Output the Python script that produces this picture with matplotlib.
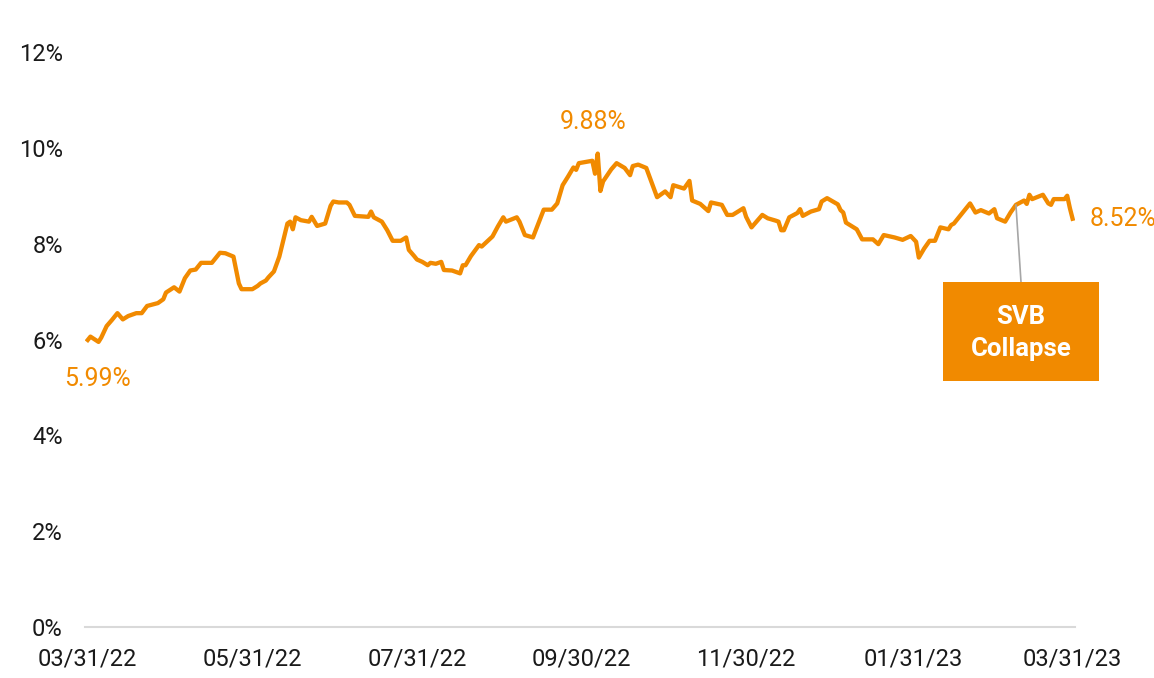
import numpy as np
import matplotlib
matplotlib.use('Agg')
import matplotlib.pyplot as plt
import matplotlib.dates as mdates
from matplotlib.patches import Rectangle

plt.rcParams['font.family'] = ['Roboto', 'DejaVu Sans']

# days after 03/31/22 and the yield (%)
start = np.datetime64('2022-03-31')
days = [0, 1, 4, 5, 7, 9, 11, 13, 15, 18, 20, 22, 26, 28, 29, 32, 34, 36, 38, 40,
        42, 46, 49, 51, 54, 56, 57, 61, 63, 64, 66, 67, 69, 71, 74, 75, 76, 77,
        79, 82, 83, 85, 88, 90, 91, 93, 96, 97, 99, 104, 105, 106, 109, 111, 113,
        116, 118, 119, 121, 122, 124, 126, 127, 129, 131, 132, 135, 138, 139, 140,
        142, 145, 146, 150, 152, 154, 155, 159, 160, 162, 165, 167, 169, 172, 174,
        176, 178, 180, 181, 182, 185, 187, 188, 189, 190, 191, 194, 196, 199, 201,
        202, 204, 207, 211, 214, 216, 217, 221, 223, 224, 227, 230, 231, 235, 237,
        239, 243, 244, 246, 250, 252, 255, 256, 257, 258, 260, 263, 264, 265, 268,
        271, 272, 274, 278, 279, 280, 281, 285, 287, 291, 293, 295, 299, 302, 305,
        307, 308, 310, 312, 314, 316, 319, 320, 321, 324, 327, 329, 331, 334, 336,
        337, 340, 342, 344, 347, 348, 349, 350, 354, 356, 357, 358, 362, 363, 364,
        365]
yields = [5.99, 6.06, 5.95, 6.04, 6.28, 6.41, 6.55, 6.42, 6.49, 6.55, 6.55, 6.70,
          6.76, 6.84, 6.98, 7.09, 7.00, 7.28, 7.44, 7.46, 7.60, 7.60, 7.81, 7.80,
          7.73, 7.17, 7.05, 7.05, 7.12, 7.17, 7.23, 7.30, 7.42, 7.73, 8.42, 8.46,
          8.30, 8.55, 8.49, 8.46, 8.56, 8.37, 8.42, 8.79, 8.88, 8.86, 8.86, 8.81,
          8.58, 8.56, 8.67, 8.55, 8.46, 8.28, 8.06, 8.06, 8.13, 7.87, 7.74, 7.67,
          7.62, 7.55, 7.60, 7.58, 7.62, 7.45, 7.44, 7.38, 7.55, 7.55, 7.74, 7.97,
          7.94, 8.15, 8.36, 8.55, 8.46, 8.55, 8.46, 8.18, 8.13, 8.42, 8.71, 8.71,
          8.84, 9.22, 9.40, 9.59, 9.54, 9.68, 9.71, 9.73, 9.46, 9.88, 9.10, 9.30,
          9.55, 9.68, 9.58, 9.43, 9.62, 9.65, 9.58, 8.97, 9.09, 8.97, 9.22, 9.15,
          9.31, 8.90, 8.83, 8.68, 8.86, 8.81, 8.60, 8.60, 8.74, 8.56, 8.34, 8.60,
          8.53, 8.48, 8.46, 8.28, 8.28, 8.55, 8.64, 8.72, 8.58, 8.67, 8.72, 8.88,
          8.95, 8.82, 8.70, 8.65, 8.44, 8.30, 8.09, 8.09, 7.99, 8.18, 8.13, 8.08,
          8.16, 8.04, 7.71, 7.90, 8.06, 8.06, 8.34, 8.30, 8.39, 8.42, 8.63, 8.84,
          8.65, 8.70, 8.63, 8.72, 8.53, 8.46, 8.65, 8.81, 8.90, 8.83, 9.02, 8.93,
          9.02, 8.84, 8.81, 8.93, 8.93, 9.00, 8.74, 8.52]

tick_dates = ['2022-03-31', '2022-05-31', '2022-07-31', '2022-09-30',
              '2022-11-30', '2023-01-31', '2023-03-31']
y_ticks = [0, 2, 4, 6, 8, 10, 12]
svb_date = '2023-03-10'

orange = '#F18A00'
dates = start + np.array(days).astype('timedelta64[D]')

fig = plt.figure(figsize=(11.54, 6.78), dpi=100)
ax = fig.add_axes([0.0737, 0.0752, 0.8581, 0.8481])

ax.plot(dates, yields, color=orange, lw=3.1, solid_joinstyle='round')

ax.set_ylim(0, 12)
ax.set_xlim(start - np.timedelta64(1, 'D'), start + np.timedelta64(366, 'D'))
ax.set_yticks(y_ticks)
ax.set_yticklabels([f'{v}%' for v in y_ticks])
ax.set_xticks([np.datetime64(d) for d in tick_dates])
ax.xaxis.set_major_formatter(mdates.DateFormatter('%m/%d/%y'))
ax.tick_params(axis='both', length=0, labelsize=17, colors='#1a1a1a')
ax.tick_params(axis='y', pad=16)
ax.tick_params(axis='x', pad=15)
for s in ['top', 'right', 'left']:
    ax.spines[s].set_visible(False)
ax.spines['bottom'].set_color('#d9d9d9')
ax.spines['bottom'].set_linewidth(1.5)

# value labels
ax.annotate(f'{yields[0]:.2f}%', (dates[0], yields[0]), xytext=(7, -28),
            textcoords='offset points', ha='center', va='center',
            color=orange, fontsize=18)
i_max = int(np.argmax(yields))
ax.annotate(f'{yields[i_max]:.2f}%', (dates[i_max], yields[i_max]), xytext=(-3, 23),
            textcoords='offset points', ha='center', va='center',
            color=orange, fontsize=18)
ax.annotate(f'{yields[-1]:.2f}%', (dates[-1], yields[-1]), xytext=(12, 0),
            textcoords='offset points', ha='left', va='center',
            color=orange, fontsize=18, annotation_clip=False)

# SVB callout
svb = np.datetime64(svb_date)
svb_val = yields[days.index(int((svb - start).astype(int)))]
W, H = 1154, 678
ax.annotate('', (svb, svb_val), xytext=(1021 / W, 1 - 282 / H),
            textcoords='figure fraction',
            arrowprops=dict(arrowstyle='-', color='#a6a6a6', lw=1.2,
                            shrinkA=0, shrinkB=0))
fig.patches.append(Rectangle((943 / W, 1 - 381 / H), 156 / W, 99 / H,
                             transform=fig.transFigure, facecolor=orange,
                             edgecolor='none', zorder=3))
fig.text(1021 / W, 1 - 333 / H, 'SVB\nCollapse', ha='center', va='center',
         color='white', fontsize=18.5, fontweight='bold', linespacing=1.4,
         zorder=4)

fig.savefig('out.png', dpi=100, facecolor='white')
